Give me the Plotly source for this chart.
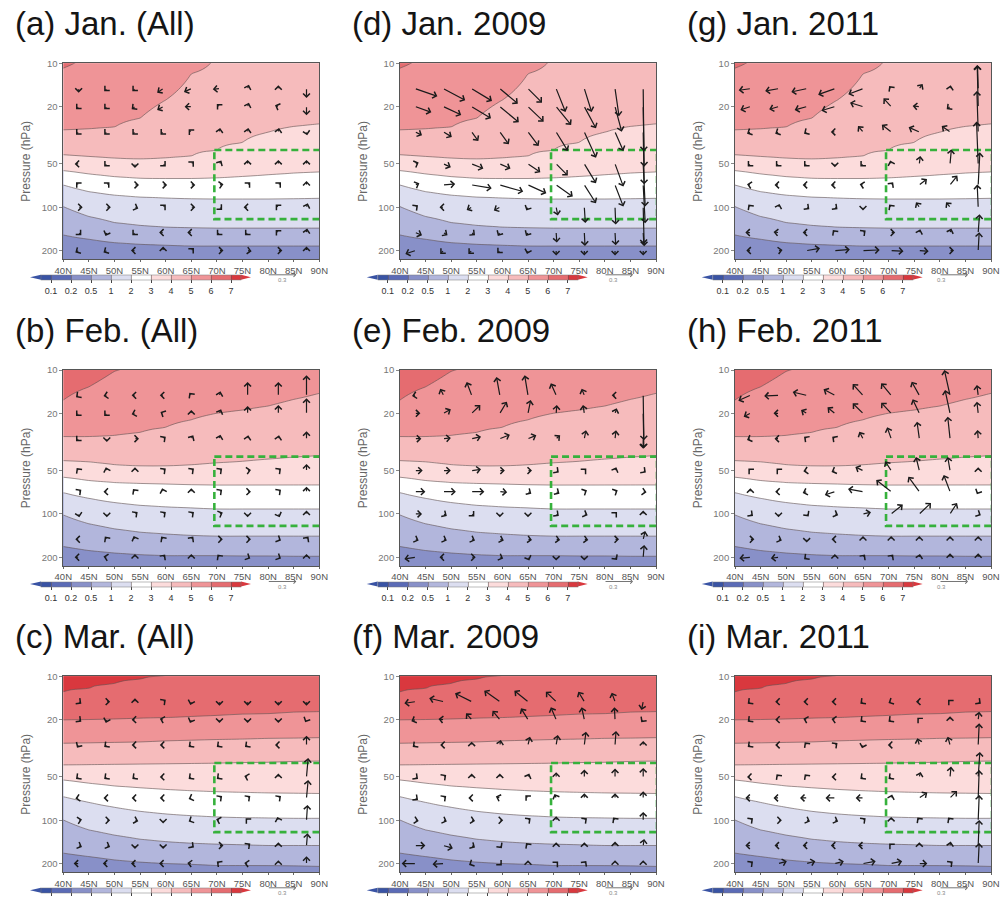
import numpy as np
import plotly.graph_objects as go

# ---------------- data ----------------
LATS = [40, 45, 50, 55, 60, 65, 70, 75, 80, 85, 90]
LEVEL_LABELS = ['0.1', '0.2', '0.5', '1', '2', '3', '4', '5', '6', '7']
BAND_COLORS = ['#3953a4', '#5b6bb6', '#8890c8', '#b2b6dc', '#dcdef0', '#ffffff',
               '#fcdcdc', '#f6bbbc', '#ef9497', '#e56c70', '#d9383e']

# pressure (hPa) of each shading boundary (0.1 ... 7) at LATS
JAN_BOUNDS = [
    [320] * 11,
    [260] * 11,
    [155.7, 166.8, 176, 180.7, 183.6, 185.8, 185.8, 185.8, 185.8, 185.8, 185.8],
    [99, 116, 128, 134, 137.7, 139.3, 140, 140, 140, 140, 140],
    [70, 77.8, 82.2, 84.8, 86.1, 87.1, 87.6, 87.6, 87.6, 87.2, 86.6],
    [55.7, 58.7, 61.3, 62.9, 63.2, 63.2, 62.6, 61.3, 59.7, 58.1, 56.9],
    [43.3, 44.5, 45.7, 46.2, 45.7, 44.3, 40, 35.5, 30.2, 27.5, 26.4],
    [29.0, 28.7, 27.8, 24.1, 18.0, 11.8, 8.5, 8.5, 8.5, 8.5, 8.5],
    [10.8, 8.5, 7.5, 7.5, 7.5, 7, 7, 7, 7, 7, 7],
    [5] * 11,
]
FEB_BOUNDS = [
    [320] * 11,
    [260] * 11,
    [168.6, 179.8, 187, 192, 195, 195, 195, 196, 196, 197, 197],
    [101.6, 117, 127, 134, 138, 141, 143, 143, 143, 143, 143],
    [71.1, 77.8, 83.3, 87, 89.2, 90.8, 92.3, 92.3, 92.3, 92.3, 92.3],
    [55.6, 58.6, 60.5, 61.3, 62, 62.6, 63, 63, 63, 63, 63],
    [42.7, 43.5, 45.6, 46.4, 46.4, 45.8, 44.4, 43.3, 41.8, 40.5, 39.5],
    [29.0, 29.0, 28.6, 27.2, 25.0, 22.2, 20.0, 19.0, 17.8, 16.0, 14.5],
    [16.2, 13.1, 10.2, 8.5, 7.5, 7, 7, 7, 7, 7, 7],
    [5] * 11,
]
MAR_BOUNDS = [
    [320] * 11,
    [260] * 11,
    [169.5, 179, 188.7, 195.7, 200, 203, 206.6, 206.6, 207, 208, 210],
    [99.5, 116.8, 127, 135.6, 140.8, 144.5, 146.8, 148.3, 150, 150, 150],
    [68.5, 75.0, 81.2, 86.6, 90.4, 92.9, 94.8, 95.9, 96.4, 96.9, 96.9],
    [52.5, 55.3, 57.8, 59.5, 61.1, 62.4, 63.4, 64, 64.7, 65.0, 65.3],
    [41.3, 41.1, 40.9, 40.7, 40.5, 40.3, 40.1, 39.7, 39.5, 39.0, 38.8],
    [29.2, 29.0, 28.8, 28.6, 28.1, 27.8, 27.5, 27.3, 27.0, 26.9, 26.7],
    [20.1, 20.0, 19.8, 19.6, 19.4, 19.1, 18.7, 18.4, 18.2, 17.8, 17.6],
    [12.9, 12.2, 11.3, 10.5, 9.9, 9.0, 8.0, 8.0, 8.0, 8.0, 8.0],
]

# vector grid
ARROW_LATS = [43, 48.5, 54, 59.5, 65, 70.5, 76, 82, 87.5]
ARROW_PLEVS = [15, 20, 30, 50, 70, 100, 150, 200]
# vector components (key arrow 0.3 == 84 of these units); V northward, OM downward
V_A = [[0, -8, -8, -18, -22, -20, 4, 0, 0],
       [-8, -8, -10, -18, -20, -8, 4, -10, 0],
       [-8, -8, -8, -8, -8, 2, 2, 2, 2],
       [-12, -8, 0, 8, 8, 6, 0, 0, 0],
       [-8, 8, 12, 12, 12, 12, 8, 8, 0],
       [12, 12, 10, 8, 12, 8, -12, -8, 4],
       [8, -4, -8, -12, -12, -8, -8, -8, 2],
       [-10, -10, -12, 0, 8, 12, 12, 12, 0]]
OM_A = [[12, 8, 8, 12, 10, 2, -12, -10, 28],
        [8, 8, 8, 10, 0, -8, -12, -4, 26],
        [8, 8, 8, 8, -8, -12, -12, -12, 10],
        [0, 8, 12, 8, -8, -10, -12, -12, -12],
        [-8, -8, 0, 0, 0, -2, -8, -8, -12],
        [0, 0, 4, -8, 0, 8, 0, -8, -12],
        [8, 10, 8, 0, 0, 8, 8, -8, -12],
        [6, 6, 0, -12, -8, 0, 2, 0, -12]]
V_B = [[-8, -10, -10, -10, -6, 3, 0, 0, 0],
       [-8, -8, -10, -8, 0, 5, 0, 0, 0],
       [-8, 0, 12, 8, 6, 3, 2, 2, 0],
       [-6, -3, 0, 8, 8, 8, 10, 8, 0],
       [8, -10, -6, -3, 0, 8, 10, 8, 0],
       [2, 0, 8, 8, 8, 10, 0, 4, 0],
       [-10, -6, -4, -6, 6, 10, 10, 8, 6],
       [-12, -10, 0, 6, 0, -6, 8, 8, 0]]
OM_B = [[6, 2, 0, 0, -8, -12, -40, -40, -60],
        [8, 8, 3, -4, -10, -12, -22, -25, -45],
        [8, 10, 0, -6, -10, -12, -10, -10, -22],
        [-8, -10, -10, -6, -6, -6, -2, -6, -20],
        [-6, 0, -8, -10, -10, -6, 0, -6, -15],
        [10, 10, -6, -6, -6, -4, 10, 10, -10],
        [0, -8, -10, -8, -8, 0, 0, 4, -8],
        [0, -2, -10, -8, -10, -8, 4, 4, -10]]
V_C = [[8, 10, 0, 8, -3, 0, 0, 0, 0],
       [8, -3, -10, -10, -4, 0, 0, 0, -4],
       [-5, -8, -10, -10, -8, -8, -8, -10, 0],
       [-8, -8, -8, -10, -8, -8, -10, 0, 5],
       [-10, -10, -10, -10, -8, 8, 8, 8, 5],
       [10, 10, 10, 0, -8, -10, -6, -3, 3],
       [10, 10, 0, 0, 8, 12, 8, 0, 3],
       [-15, -12, -12, -12, -12, -8, -10, 0, 0]]
OM_C = [[6, 0, -10, -6, 10, 12, 12, 12, 12],
        [6, 10, 0, -3, 10, 10, 10, 10, 8],
        [8, 6, 0, 0, 6, 6, 6, 0, -28],
        [6, 6, 6, 0, 6, 6, -3, -10, -57],
        [2, 0, 0, 0, 3, -6, -6, -6, -54],
        [-2, 0, 3, 10, 4, -3, -6, -10, -46],
        [4, 4, 10, 10, 6, 0, -6, -10, -37],
        [0, 0, 0, 0, -2, -6, -2, -10, -22]]
V_D = [[66, 65, 61, 54, 42, 28, 22, 12, 2],
       [48, 53, 58, 57, 47, 45, 35, 20, 3],
       [20, 25, 20, 27, 32, 35, 35, 25, 3],
       [10, 22, 35, 32, 37, 35, 35, 25, 6],
       [12, 35, 60, 70, 55, 50, 35, 25, 6],
       [8, -12, -15, -18, -5, 5, 3, 2, 3],
       [20, 12, 10, -6, -6, 2, 2, 2, 2],
       [-30, -10, -10, -8, -3, 0, 0, 0, 0]]
OM_D = [[23, 35, 37, 45, 42, 70, 70, 83, 188],
        [17, 25, 35, 47, 45, 55, 65, 75, 180],
        [10, 15, 27, 37, 42, 57, 77, 57, 157],
        [-4, 10, 14, 14, 25, 35, 58, 68, 128],
        [-5, -3, 10, 20, 25, 35, 55, 65, 115],
        [-6, 0, 8, 10, 10, 25, 47, 52, 117],
        [8, 8, 8, 10, 10, 30, 40, 38, 35],
        [10, 10, 10, 8, 10, 15, 15, 15, 15]]
V_E = [[-10, -10, -15, -10, -10, -16, -8, -10, 2],
       [15, 22, 26, 21, 8, 2, -4, 5, 2],
       [18, 22, 28, 30, 25, 12, 5, 3, 0],
       [22, 22, 28, 15, 12, 8, 6, 4, 8],
       [30, 37, 38, 22, 10, 10, 8, 8, 10],
       [20, 10, 8, 0, 0, 8, 10, 6, 0],
       [10, 10, 10, 12, 12, 12, 12, 12, 6],
       [-33, -12, 12, 10, 4, 0, 0, 6, 3]]
OM_E = [[2, -20, -40, -55, -60, -36, -20, 0, 135],
        [0, -12, -25, -35, -40, -25, -25, -15, 105],
        [0, -2, -6, -12, -10, -10, -25, -25, 30],
        [0, 0, -4, 0, 0, 6, -6, -10, 6],
        [0, 0, 0, 2, 6, 6, -4, -4, 2],
        [0, 6, 8, 10, 10, 6, 4, -6, -10],
        [4, 4, 4, 4, 2, 2, 2, 0, -25],
        [5, 0, 0, 4, 10, 10, 10, 8, -37]]
V_F = [[-33, -43, -50, -47, -41, -31, -18, -10, -5],
       [-12, -15, -17, -22, -21, -16, -8, -2, -6],
       [-8, -10, 0, 3, 6, 5, 5, 3, 0],
       [8, 8, 0, 0, 4, 0, 0, 0, 0],
       [8, 8, -10, -12, -8, -5, 0, 0, 0],
       [10, 10, 10, 10, 8, 0, 8, -6, 0],
       [30, 28, 10, 6, -6, 0, 0, 0, 3],
       [-41, -33, -8, 6, 0, 6, 6, 0, 0]]
OM_F = [[5, -10, -25, -33, -33, -30, -30, -27, 25],
        [5, -2, -19, -27, -34, -37, -37, -37, 8],
        [6, 0, -10, -15, -25, -30, -40, -42, -12],
        [6, -6, -10, -10, -10, -14, -22, -25, -27],
        [6, -6, 0, -4, -8, -12, -14, -14, -20],
        [2, 4, 2, 0, -6, -12, -6, -8, -25],
        [0, 8, 6, 8, -8, -10, -10, -12, -20],
        [0, 2, 4, 6, -10, -6, -8, -10, -10]]
V_G = [[-35, -40, -46, -50, -44, -6, 10, 2, -2],
       [-30, -28, -36, -40, -39, -23, -20, -10, -3],
       [-10, -10, -8, -12, -15, -28, -32, -25, -4],
       [-8, -8, -8, 0, -8, -3, 3, 4, -5],
       [-10, -12, -12, -12, -10, 6, 23, 22, 5],
       [-6, 3, 8, 8, 0, -6, -10, -12, -3],
       [-15, -15, -12, -6, 8, 12, 3, 4, 4],
       [-12, 12, 40, 45, 50, 37, 28, 12, 3]]
OM_G = [[5, 7, 10, 18, 17, -8, -14, -10, -70],
        [10, 8, 10, 12, -12, -25, -2, 8, -125],
        [5, 5, 5, 0, -18, -22, -14, -18, -123],
        [8, 8, 8, 10, 8, -10, -24, -44, -127],
        [-2, 0, 0, 0, -2, -8, -18, -28, -98],
        [-8, -10, 6, 6, 10, -8, -15, -15, -68],
        [0, -2, 0, -8, -6, 0, -10, -12, -55],
        [0, -2, -7, -3, -2, 2, 2, 0, -55]]
V_H = [[-36, -43, -42, -34, -31, -30, -23, -17, -4],
       [-20, -15, -17, -22, -31, -30, -20, -15, -4],
       [-10, -12, -8, -8, -11, -12, -7, -7, -2],
       [-6, -6, -10, -10, -23, -18, -10, -7, 0],
       [0, -10, -12, -30, -45, -45, -33, -19, -4],
       [8, 0, 6, 10, 24, 35, 35, 21, 8],
       [12, 10, 0, -10, 0, 0, 0, 0, 0],
       [-33, -23, -8, 0, 6, 6, 2, 0, 0]]
OM_H = [[16, 2, -10, -18, -34, -36, -41, -76, -31],
        [10, 0, -10, -18, -30, -32, -42, -70, -35],
        [4, 0, -6, -6, -21, -34, -51, -66, -26],
        [-6, -6, 2, 4, -11, -28, -41, -41, -10],
        [-10, 0, 4, 10, -8, -35, -45, -50, 8],
        [6, 10, 8, 4, -5, -28, -33, -33, 4],
        [0, 4, 10, 0, -10, -10, -10, -10, -10],
        [3, 3, 6, -10, -8, -8, -10, -12, -12]]
V_I = [[-8, -10, -10, -10, -8, -8, -10, -6, 8],
       [-8, -10, -10, -10, -8, -8, -6, 0, 3],
       [-8, -10, -6, 8, -3, -10, -6, -7, 3],
       [-10, -6, -6, -10, -8, -8, 4, 3, 5],
       [-15, -15, -20, -28, -22, 3, 24, 21, 3],
       [8, 10, 10, 10, 8, 0, -6, -6, 3],
       [-15, -12, -12, -12, -15, -6, 0, 2, 3],
       [8, 25, 26, 27, 38, 33, 24, 8, 3]]
OM_I = [[6, 0, 0, 0, 6, 4, 0, -6, 6],
        [6, 0, -3, -2, 6, 6, -6, -10, -24],
        [6, 0, -8, -6, 10, 0, -20, -25, -65],
        [0, -8, -8, 0, 6, 6, -15, -31, -75],
        [0, 0, 0, 0, 0, -10, -16, -21, -84],
        [-6, 0, 4, 4, -6, -10, -8, -8, -76],
        [0, 0, 0, 0, 0, -6, -10, -12, -77],
        [-6, -7, -7, -7, -7, -7, 0, -6, -62]]

KEY_VALUE = 0.3
KEY_RAW = 84          # raw component units equal to the 0.3 key

PANELS = [  # (title, bounds, V, OM, column, row)
    ('(a) Jan. (All)', JAN_BOUNDS, V_A, OM_A, 0, 0),
    ('(b) Feb. (All)', FEB_BOUNDS, V_B, OM_B, 0, 1),
    ('(c) Mar. (All)', MAR_BOUNDS, V_C, OM_C, 0, 2),
    ('(d) Jan. 2009', JAN_BOUNDS, V_D, OM_D, 1, 0),
    ('(e) Feb. 2009', FEB_BOUNDS, V_E, OM_E, 1, 1),
    ('(f) Mar. 2009', MAR_BOUNDS, V_F, OM_F, 1, 2),
    ('(g) Jan. 2011', JAN_BOUNDS, V_G, OM_G, 2, 0),
    ('(h) Feb. 2011', FEB_BOUNDS, V_H, OM_H, 2, 1),
    ('(i) Mar. 2011', MAR_BOUNDS, V_I, OM_I, 2, 2),
]
BOX_LAT = [69.5, 90.2]
BOX_P = [40, 121]

# ---------------- layout geometry ----------------
FW, FH = 1005, 898
COL_X0 = [63.3, 400.0, 735.0]
ROW_Y0 = [63.3, 370.0, 676.3]
PW, PH = 256.0, 196.0
P_TOP, P_BOT = 10.0, 230.0
PX_PER_DEG = PW / (LATS[-1] - LATS[0])
PX_PER_DEC = PH / (np.log10(P_BOT) - np.log10(P_TOP))
KEY_PX = 28.0
PX_PER_RAW = KEY_PX / KEY_RAW
FONT = 'Liberation Sans, Arial, sans-serif'

# colorscale: band i (value i+0.5 in level-index space) -> BAND_COLORS[i]
cscale = []
for i, c in enumerate(BAND_COLORS):
    lo = max(0.0, (i - 0.5) / 10)
    hi = min(1.0, (i + 0.5) / 10)
    cscale += [[lo, c], [hi, c]]

P_GRID = np.logspace(np.log10(8), np.log10(260), 120)


def level_field(bounds):
    b = np.array(bounds, dtype=float)  # (10 levels, n lats)
    z = np.zeros((len(P_GRID), b.shape[1]))
    for j in range(b.shape[1]):
        xp = np.concatenate([[0.0], np.log10(b[::-1, j]), [3.0]])
        fp = np.concatenate([[11.0], np.arange(10, 0, -1, dtype=float), [0.0]])
        z[:, j] = np.interp(np.log10(P_GRID), xp, fp)
    return z


fig = go.Figure()
annotations = []
shapes = []
layout_axes = {}

for k, (title, bounds, V, OM, col, row) in enumerate(PANELS):
    n = '' if k == 0 else str(k + 1)
    xa, ya = 'x' + n, 'y' + n
    x0, y0 = COL_X0[col], ROW_Y0[row]
    xdom = [x0 / FW, (x0 + PW) / FW]
    ydom = [1 - (y0 + PH) / FH, 1 - y0 / FH]

    cb_start = x0 - 22.3
    cb_top = y0 + PH + 15.5
    fig.add_trace(go.Contour(
        x=LATS, y=P_GRID, z=level_field(bounds), xaxis=xa, yaxis=ya,
        colorscale=cscale, zmin=0.5, zmax=10.5,
        contours=dict(start=1, end=10, size=1, coloring='fill', showlines=True),
        line=dict(color='rgba(95,80,80,0.75)', width=0.8, smoothing=1),
        hoverinfo='skip',
        colorbar=dict(orientation='h', thickness=5, thicknessmode='pixels',
                      len=200, lenmode='pixels',
                      x=(cb_start + 100) / FW, xanchor='center',
                      y=1 - cb_top / FH, yanchor='top', xpad=0, ypad=0,
                      tickvals=list(range(1, 11)), ticktext=LEVEL_LABELS,
                      ticks='outside', ticklen=3, tickcolor='#444', tickwidth=1,
                      tickfont=dict(size=9, color='#333', family=FONT),
                      outlinewidth=0.5, outlinecolor='#777'),
    ))
    # green analysis box
    fig.add_trace(go.Scatter(
        x=[BOX_LAT[0], BOX_LAT[1], BOX_LAT[1], BOX_LAT[0], BOX_LAT[0]],
        y=[BOX_P[0], BOX_P[0], BOX_P[1], BOX_P[1], BOX_P[0]],
        xaxis=xa, yaxis=ya, mode='lines', cliponaxis=False, hoverinfo='skip',
        line=dict(color='#36b13c', width=2.6, dash='7px,4px')))

    # colorbar extension triangles
    cy = cb_top + 2.5
    shapes.append(dict(type='path', xref='paper', yref='paper', line=dict(width=0),
                       fillcolor=BAND_COLORS[0],
                       path=f'M {(cb_start - 11) / FW},{1 - cy / FH} L {cb_start / FW},{1 - (cy - 2.5) / FH} '
                            f'L {cb_start / FW},{1 - (cy + 2.5) / FH} Z'))
    cb_end = cb_start + 200
    shapes.append(dict(type='path', xref='paper', yref='paper', line=dict(width=0),
                       fillcolor=BAND_COLORS[-1],
                       path=f'M {(cb_end + 10) / FW},{1 - cy / FH} L {cb_end / FW},{1 - (cy - 2.5) / FH} '
                            f'L {cb_end / FW},{1 - (cy + 2.5) / FH} Z'))

    layout_axes['xaxis' + n] = dict(
        domain=xdom, anchor=ya, range=[LATS[0], LATS[-1]],
        tickvals=list(range(40, 91, 5)), ticktext=[f'{v}N' for v in range(40, 91, 5)],
        ticks='outside', ticklen=2, tickcolor='#666',
        tickfont=dict(size=9.5, color='#555', family=FONT),
        showline=True, mirror=True, linecolor='#555', linewidth=0.8,
        showgrid=False, zeroline=False)
    layout_axes['yaxis' + n] = dict(
        domain=ydom, anchor=xa, type='log',
        range=[np.log10(P_BOT), np.log10(P_TOP)],
        tickvals=[10, 20, 50, 100, 200], ticktext=['10', '20', '50', '100', '200'],
        ticks='outside', ticklen=3, tickcolor='#888',
        tickfont=dict(size=9.5, color='#777', family=FONT),
        title=dict(text='Pressure (hPa)', font=dict(size=12, color='#666', family=FONT), standoff=8),
        showline=True, mirror=True, linecolor='#555', linewidth=0.8,
        showgrid=False, zeroline=False)

    # vectors (tail at grid point)
    for r, p in enumerate(ARROW_PLEVS):
        for c, lat in enumerate(ARROW_LATS):
            dxp = V[r][c] * PX_PER_RAW
            dyp = OM[r][c] * PX_PER_RAW
            annotations.append(dict(
                x=lat + dxp / PX_PER_DEG, y=np.log10(p) + dyp / PX_PER_DEC,
                ax=lat, ay=np.log10(p), xref=xa, yref=ya, axref=xa, ayref=ya,
                text='', font=dict(size=1), borderpad=0,
                showarrow=True, arrowhead=4, arrowsize=1.1, arrowwidth=1.2,
                arrowcolor='#1a1a1a', standoff=0, startstandoff=0))

    # title
    annotations.append(dict(text=title, xref='paper', yref='paper',
                            x=(x0 - 50) / FW, y=1 - (y0 - 39.5) / FH,
                            xanchor='left', yanchor='middle', showarrow=False,
                            font=dict(size=33, color='#151515', family=FONT)))
    # key vector
    key_y = 1 - (y0 + PH + 15.5) / FH
    annotations.append(dict(x=(x0 + 233) / FW, y=key_y, xref='paper', yref='paper',
                            ax=-KEY_PX, ay=0, axref='pixel', ayref='pixel',
                            text='', font=dict(size=1), borderpad=0,
                            showarrow=True, arrowhead=4, arrowsize=0.9, arrowwidth=0.9,
                            arrowcolor='#666', standoff=0))
    annotations.append(dict(text=str(KEY_VALUE), x=(x0 + 213) / FW, y=1 - (y0 + PH + 20.5) / FH,
                            xref='paper', yref='paper', showarrow=False, yanchor='middle',
                            font=dict(size=6, color='#888', family=FONT)))

fig.update_layout(
    width=FW, height=FH, margin=dict(l=0, r=0, t=0, b=0, autoexpand=False),
    paper_bgcolor='white', plot_bgcolor='white', showlegend=False,
    annotations=annotations, shapes=shapes, **layout_axes)

fig.write_html('out.html')
